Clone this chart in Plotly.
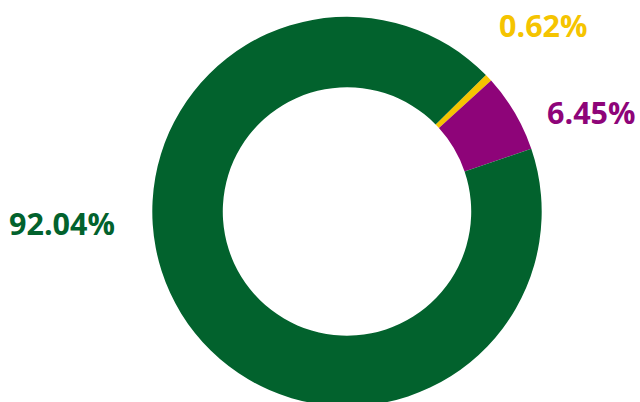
import plotly.graph_objects as go

labels = ["0.62%", "6.45%", "92.04%"]
values = [0.62, 6.45, 92.04]
colors = ["#F5C400", "#8E0479", "#02622D"]
label_x = [543, 591, 62]
label_y = [25, 112, 223]

W, H = 640, 410
cx, cy, r = 347, 211.5, 194.7

fig = go.Figure(go.Pie(
    values=values,
    labels=labels,
    marker=dict(colors=colors, line=dict(width=0)),
    hole=0.638,
    sort=False,
    direction="clockwise",
    rotation=45.5,
    textinfo="none",
    hoverinfo="label",
    showlegend=False,
    domain=dict(x=[(cx - r) / W, (cx + r) / W],
                y=[(H - cy - r) / H, (H - cy + r) / H]),
))

for t, c, x, y in zip(labels, colors, label_x, label_y):
    fig.add_annotation(x=x / W, y=1 - y / H, xref="paper", yref="paper",
                       text=f"<b>{t}</b>", showarrow=False,
                       font=dict(family="Open Sans", size=30.5, color=c),
                       xanchor="center", yanchor="middle")

fig.update_layout(width=W, height=H, margin=dict(l=0, r=0, t=0, b=0),
                  paper_bgcolor="white", plot_bgcolor="white")
fig.write_html("out.html")
